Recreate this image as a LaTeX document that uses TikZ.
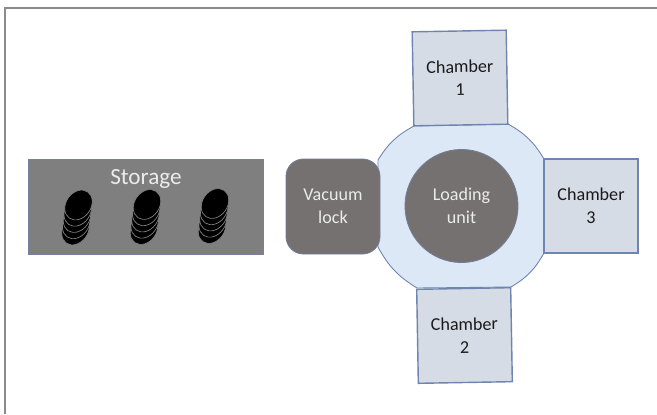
\documentclass[tikz,border=0pt]{standalone}
\usepackage{fontspec}
\setmainfont{Carlito}
\usetikzlibrary{positioning}

\definecolor{framegray}{HTML}{8A8A8A}
\definecolor{storagefill}{HTML}{7F7F7F}
\definecolor{darkfill}{HTML}{767171}
\definecolor{chamberfill}{HTML}{D6DCE5}
\definecolor{ringfill}{HTML}{DCE8F5}
\definecolor{edgeblue}{HTML}{6F84AE}
\definecolor{wordblack}{HTML}{1A1A1A}

\tikzset{
    chamber/.style={draw=edgeblue, fill=chamberfill, line width=0.8pt, minimum width=1.88cm, minimum height=1.88cm, inner sep=0pt, align=center, text=wordblack, font=\fontsize{10.3}{13}\selectfont},
    darkbox/.style={draw=edgeblue!60!darkfill, fill=darkfill, line width=0.5pt, inner sep=0pt, align=center, text=white!92!black, font=\fontsize{10.3}{13}\selectfont},
    disk/.style={fill=black, draw=storagefill, line width=0.4pt}
}

\begin{document}
\begin{tikzpicture}
            \useasboundingbox (0, 0) rectangle (13.14, 8.28);
            \draw[framegray, line width=1.1pt] (0.1, 0) -- (0.1, 8.12) -- (13.14, 8.12);

            \node[draw=edgeblue!70!storagefill, fill=storagefill, line width=0.4pt, minimum width=4.7cm, minimum height=1.9cm, inner sep=0pt] (storage) at (2.91, 4.15) {};
            \node[text=white!92!black, font=\fontsize{13.2}{15}\selectfont, inner sep=0pt] (storagelabel) at (2.92, 4.70) {Storage};

            \foreach \stackx/\stacky in {1.51/3.68, 2.88/3.69, 4.24/3.71} {
                \foreach \i in {0, 1, 2, 3, 4} {
                    \draw[disk, shift={(\stackx + 0.015*\i, \stacky + 0.125*\i)}, rotate=55] (0, 0) ellipse (0.32 and 0.25);
                }
            }

            \draw[edgeblue, fill=ringfill, line width=0.5pt] (10.16, 5.8) to[bend left=15] (10.88, 5.1) -- (10.88, 3.22) to[bend left=15] (10.22, 2.54) -- (8.34, 2.52) to[bend left=15] (7.56, 3.34) -- (7.56, 5.08) to[bend left=15] (8.28, 5.76) -- cycle;

            \node[darkbox, circle, minimum size=2.26cm] (loading) at (9.23, 4.16) {Loading\\unit};
            \node[darkbox, rounded corners=0.35cm, minimum width=1.88cm, minimum height=1.9cm] (vacuum) at (6.66, 4.15) {Vacuum\\lock};

            \node[chamber, rotate=1] (chamber1) at (9.2, 6.72) {Chamber\\1};
            \node[chamber, rotate=1] (chamber2) at (9.29, 1.57) {Chamber\\2};
            \node[chamber] (chamber3) at (11.82, 4.16) {Chamber\\3};
\end{tikzpicture}
\end{document}
